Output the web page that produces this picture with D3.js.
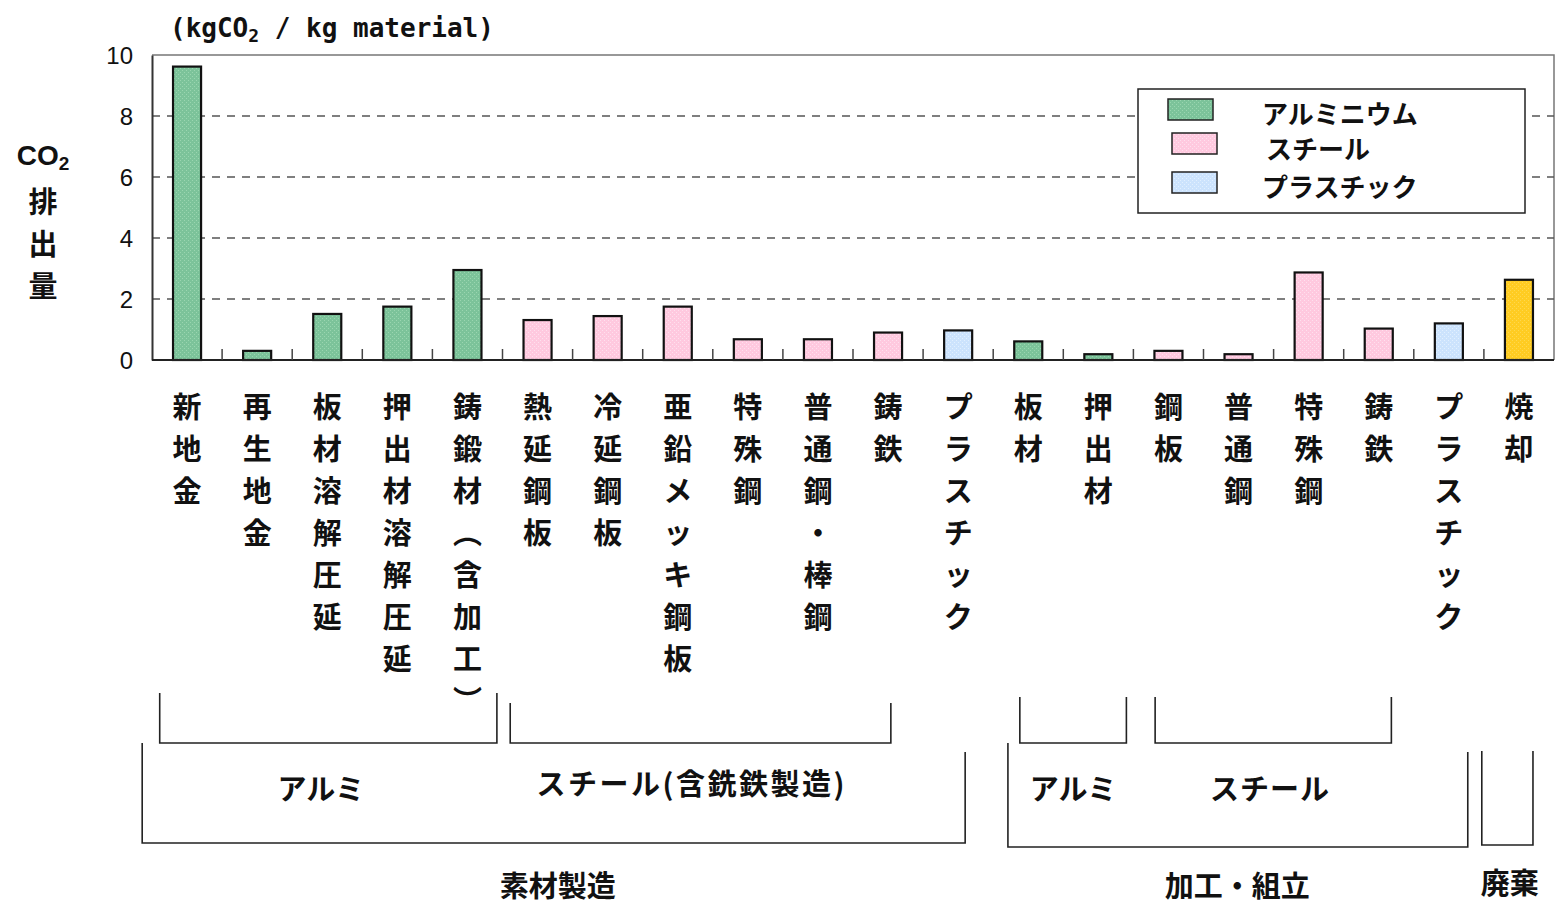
<!DOCTYPE html>
<html>
<head>
<meta charset="utf-8">
<script src="https://cdn.jsdelivr.net/npm/d3@7/dist/d3.min.js"></script>
<style>
  html, body { margin: 0; padding: 0; background: #fff; }
  svg { display: block; }
  .jp { font-family: "Noto Sans CJK JP", "Noto Sans", sans-serif; font-weight: 700; fill: #111; }
  .num { font-family: "Liberation Sans Narrow", "Liberation Sans", Arial, sans-serif; fill: #111; }
</style>
</head>
<body>
<script>
// CO2 emissions per kg of material, by process
const categories = [
  "新地金", "再生地金", "板材溶解圧延", "押出材溶解圧延", "鋳鍛材︵含加工︶",
  "熱延鋼板", "冷延鋼板", "亜鉛メッキ鋼板", "特殊鋼", "普通鋼・棒鋼", "鋳鉄", "プラスチック",
  "板材", "押出材", "鋼板", "普通鋼", "特殊鋼", "鋳鉄", "プラスチック", "焼却"
];
const values = [
  9.62, 0.30, 1.51, 1.75, 2.95,
  1.31, 1.44, 1.75, 0.68, 0.68, 0.90, 0.97,
  0.61, 0.19, 0.30, 0.19, 2.87, 1.03, 1.20, 2.63
];
const materials = [
  "al", "al", "al", "al", "al",
  "st", "st", "st", "st", "st", "st", "pl",
  "al", "al", "st", "st", "st", "st", "pl", "inc"
];
const yTicks = [0, 2, 4, 6, 8, 10];
const legendKeys = ["al", "st", "pl"];
const legendLabels = ["アルミニウム", "スチール", "プラスチック"];
const groupLabels = ["アルミ", "スチール(含銑鉄製造)", "アルミ", "スチール"];
const stageLabels = ["素材製造", "加工・組立", "廃棄"];

const colors = { al: "#7cc39a", st: "#ffc9df", pl: "#cce3fd", inc: "#ffcc22" };
const dots = { al: "#9ad6b0", st: "#ffe0ee", pl: "#e2f0ff", inc: "#ffd84e" };

const W = 1556, H = 906;
const plotL = 152, plotR = 1554, plotT = 55, plotB = 360;

const svg = d3.select("body").append("svg").attr("width", W).attr("height", H);

// fine texture fills
const defs = svg.append("defs");
Object.keys(colors).forEach(k => {
  const p = defs.append("pattern").attr("id", "pat-" + k)
    .attr("width", 4).attr("height", 4).attr("patternUnits", "userSpaceOnUse");
  p.append("rect").attr("width", 4).attr("height", 4).attr("fill", colors[k]);
  p.append("rect").attr("x", 0).attr("y", 0).attr("width", 1).attr("height", 1).attr("fill", dots[k]);
  p.append("rect").attr("x", 2).attr("y", 2).attr("width", 1).attr("height", 1).attr("fill", dots[k]);
});

const x = d3.scaleBand().domain(d3.range(categories.length))
  .range([plotL, plotR]).paddingInner(0.6).paddingOuter(0.3);
const y = d3.scaleLinear().domain([0, 10]).range([plotB, plotT]);
const step = x.step();
const catX = pos => plotL + pos * step;

// frame (top / right)
svg.append("path")
  .attr("d", `M${plotL},${plotT}H${plotR}V${plotB}`)
  .attr("fill", "none").attr("stroke", "#777").attr("stroke-width", 1.5);

// dashed gridlines
svg.append("g").selectAll("line").data(yTicks.filter(t => t > 0 && t < 10)).join("line")
  .attr("x1", plotL).attr("x2", plotR)
  .attr("y1", d => y(d)).attr("y2", d => y(d))
  .attr("stroke", "#555").attr("stroke-width", 1.3).attr("stroke-dasharray", "8,7");

// y axis
const yAxis = svg.append("g").attr("transform", `translate(${plotL},0)`)
  .call(d3.axisLeft(y).tickValues(yTicks).tickSize(0).tickPadding(19));
yAxis.select(".domain").attr("stroke", "#333").attr("stroke-width", 2);
yAxis.selectAll("text").attr("class", "num").attr("font-size", 24).attr("dy", "0.35em");

// bars
svg.append("g").selectAll("rect").data(values).join("rect")
  .attr("x", (d, i) => x(i))
  .attr("y", d => y(d))
  .attr("width", x.bandwidth())
  .attr("height", d => y(0) - y(d))
  .attr("fill", (d, i) => `url(#pat-${materials[i]})`)
  .attr("stroke", "#111").attr("stroke-width", 2.2);

// baseline and category separators
svg.append("line").attr("x1", plotL).attr("x2", plotR).attr("y1", plotB).attr("y2", plotB)
  .attr("stroke", "#222").attr("stroke-width", 2);
svg.append("g").selectAll("line").data(d3.range(1, categories.length)).join("line")
  .attr("x1", d => catX(d)).attr("x2", d => catX(d))
  .attr("y1", plotB).attr("y2", plotB - 11)
  .attr("stroke", "#444").attr("stroke-width", 1.5);

// vertical category labels
const catG = svg.append("g");
categories.forEach((c, i) => {
  const cx = x(i) + x.bandwidth() / 2;
  Array.from(c).forEach((ch, j) => {
    catG.append("text").attr("class", "jp")
      .attr("x", cx).attr("y", 405 + j * 42)
      .attr("text-anchor", "middle").attr("dominant-baseline", "central")
      .attr("font-size", 29).text(ch);
  });
});

// unit label
const unit = svg.append("text").attr("class", "jp").attr("x", 170).attr("y", 37)
  .attr("font-size", 26).style("font-family", "'DejaVu Sans Mono', monospace").style("font-weight", 700);
unit.append("tspan").text("(kgCO");
unit.append("tspan").attr("font-size", 18).attr("dy", 5).text("2");
unit.append("tspan").attr("dy", -5).text(" / kg material)");

// y-axis title
const yt = svg.append("text").attr("class", "jp").attr("x", 43).attr("y", 165)
  .attr("text-anchor", "middle").attr("font-size", 28)
  .style("font-family", "'Liberation Sans', Arial, sans-serif");
yt.append("tspan").text("CO");
yt.append("tspan").attr("font-size", 19).attr("dy", 5).text("2");
["排", "出", "量"].forEach((ch, j) => {
  svg.append("text").attr("class", "jp").attr("x", 43).attr("y", 200 + j * 42)
    .attr("text-anchor", "middle").attr("dominant-baseline", "central")
    .attr("font-size", 29).text(ch);
});

// legend
const lg = svg.append("g");
lg.append("rect").attr("x", 1138).attr("y", 89).attr("width", 387).attr("height", 124)
  .attr("fill", "#fff").attr("stroke", "#222").attr("stroke-width", 1.5);
legendKeys.forEach((k, i) => {
  const sx = i === 0 ? 1168 : 1172;
  const sy = [99, 133, 172][i];
  lg.append("rect").attr("x", sx).attr("y", sy).attr("width", 45).attr("height", 21)
    .attr("fill", `url(#pat-${k})`).attr("stroke", "#222").attr("stroke-width", 1.5);
  lg.append("text").attr("class", "jp")
    .attr("x", i === 1 ? 1266 : 1262).attr("y", [112, 147, 185][i])
    .attr("dominant-baseline", "central").attr("font-size", 26).text(legendLabels[i]);
});

// group brackets below the axis (positions in category units)
const brackets = [
  { a: 0.11, b: 4.92, ya: 693, yb: 693, base: 743 },
  { a: 5.11, b: 10.54, ya: 703, yb: 703, base: 743 },
  { a: -0.14, b: 11.6, ya: 743, yb: 752, base: 843 },
  { a: 12.38, b: 13.9, ya: 697, yb: 697, base: 743 },
  { a: 14.31, b: 17.68, ya: 697, yb: 697, base: 743 },
  { a: 12.21, b: 18.77, ya: 743, yb: 752, base: 847 },
  { a: 18.97, b: 19.7, ya: 751, yb: 751, base: 845 }
];
svg.append("g").selectAll("path").data(brackets).join("path")
  .attr("d", d => `M${catX(d.a)},${d.ya}V${d.base}H${catX(d.b)}V${d.yb}`)
  .attr("fill", "none").attr("stroke", "#222").attr("stroke-width", 1.6);

const groupPos = [[2.41, 787, 0], [7.7, 782, 2.5], [13.14, 787, 0], [15.95, 787, 1]];
groupLabels.forEach((t, i) => {
  svg.append("text").attr("class", "jp")
    .attr("x", catX(groupPos[i][0])).attr("y", groupPos[i][1])
    .attr("text-anchor", "middle").attr("dominant-baseline", "central")
    .attr("letter-spacing", groupPos[i][2])
    .attr("font-size", 29).text(t);
});
const stagePos = [[5.79, 884], [15.48, 884], [19.37, 881]];
stageLabels.forEach((t, i) => {
  svg.append("text").attr("class", "jp")
    .attr("x", catX(stagePos[i][0])).attr("y", stagePos[i][1])
    .attr("text-anchor", "middle").attr("dominant-baseline", "central")
    .attr("font-size", 29).text(t);
});
</script>
</body>
</html>
